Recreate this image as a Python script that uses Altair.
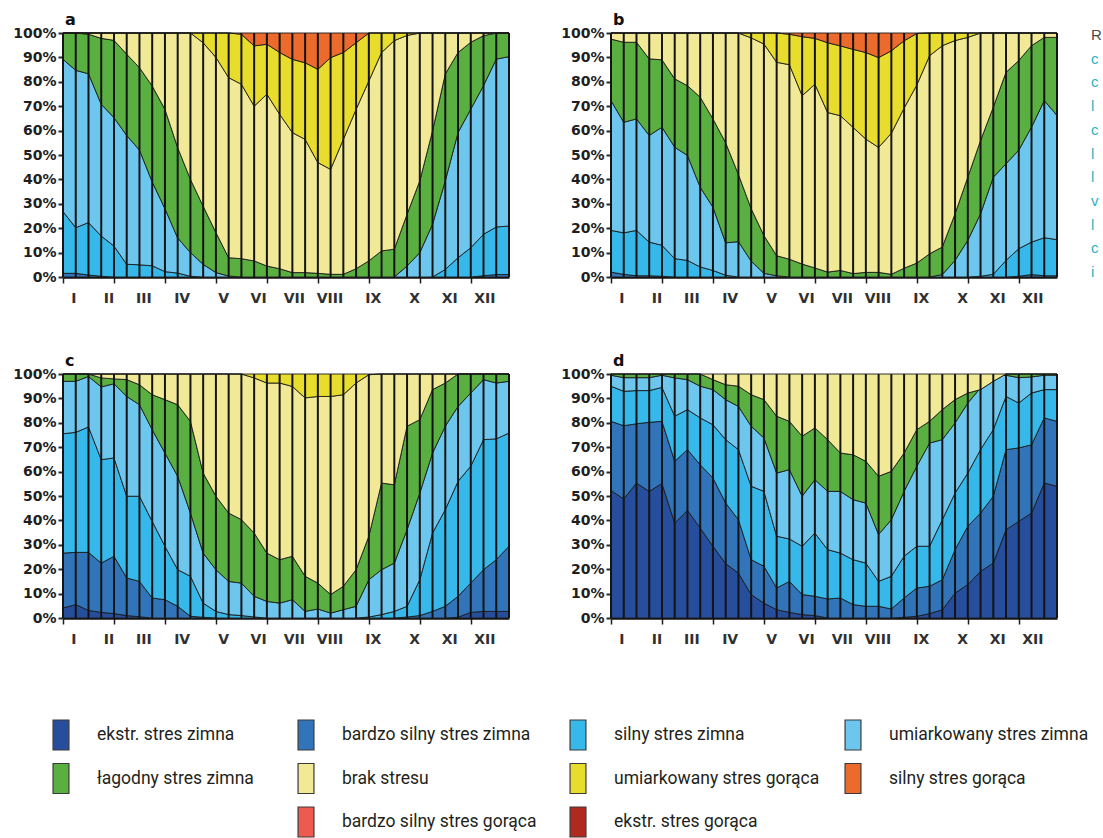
import altair as alt
import pandas as pd

# ---- classes of thermal stress (bottom to top) and their colours ----
CLASSES = [
    "ekstr. stres zimna", "bardzo silny stres zimna", "silny stres zimna",
    "umiarkowany stres zimna", "łagodny stres zimna", "brak stresu",
    "umiarkowany stres gorąca", "silny stres gorąca",
    "bardzo silny stres gorąca", "ekstr. stres gorąca",
]
COLORS = ["#274d9d", "#3274b9", "#36b9ea", "#6dc6ee", "#5aaf41", "#f1e996",
          "#e8dc2d", "#ec6a2b", "#ef5a50", "#b0291f"]

# decades of the year (3 per month) and month labels on the x axis
DECADE = list(range(36))
MONTHS = ["I", "II", "III", "IV", "V", "VI", "VII", "VIII", "IX", "X", "XI", "XII"]
MONTH_AT = [0.85, 3.6, 6.35, 9.35, 12.6, 15.35, 18.15, 20.95, 24.35, 27.6, 30.35, 33.1]
Y_TICKS = [0, 10, 20, 30, 40, 50, 60, 70, 80, 90, 100]

# ---- cumulative frequency (%) up to and including each class, per decade ----
# panel a
A_BS_Z = [1.5, 1.5, 0.8, 0.3] + [0] * 29 + [0.5, 1, 1]
A_S_Z = [26.8, 20.2, 22.3, 16.8, 12.7, 5.2, 5.0, 4.6, 2.2, 1.6, 0.3] + [0] * 19 + \
        [3.1, 7.9, 12, 17.5, 20.5, 20.9]
A_U_Z = [89.2, 84.7, 83.3, 70.8, 65.3, 58, 52, 39, 28, 16, 10, 5.2, 1.8, 0.4] + [0] * 13 + \
        [4.5, 10, 21.6, 39.4, 59.2, 68.8, 78.4, 89.3, 90.3]
A_L_Z = [100, 100, 99.5, 97.8, 97, 91.3, 85.8, 78.3, 68.7, 53, 40, 29, 18.2, 7.9, 7.5, 6.6,
         4.5, 3.4, 1.8, 1.8, 1.5, 1.1, 1.1, 3.4, 6.6, 10.7, 11.4, 25.7, 39.4, 59.9, 83.2,
         92, 96.2, 98.9, 100, 100]
A_BRAK = [100] * 11 + [96, 90, 81.7, 79, 70, 74.9, 66.7, 59.2, 56.4, 46.9, 44.1, 56.4, 68.7,
                       80.3, 92, 96.9, 99] + [100] * 8
A_U_G = [100] * 14 + [99.5, 94.7, 95.4, 92, 89.2, 87.8, 85.1, 89.9, 92, 96] + [100] * 12

# panel b
B_BS_Z = [2, 1.1, 0.5, 0.5, 0.3] + [0] * 27 + [0.3, 1, 0.5, 0.5]
B_S_Z = [19.1, 18.1, 19.1, 14.3, 13, 7.5, 6.8, 4.1, 2.7, 0.7] + [0] * 19 + \
        [0.3, 1.1, 6.8, 11.6, 14.3, 16.1, 15.3]
B_U_Z = [72.3, 63.4, 64.8, 58, 61.4, 53.2, 49.8, 36.8, 28.6, 14, 14.5, 6.5, 1.5, 0.5] + [0] * 12 + \
        [1, 6.8, 15, 25.9, 40.9, 46.4, 52, 61.4, 72.3, 66.2]
B_L_Z = [97.5, 96.2, 96.2, 89.4, 89, 81.2, 78.4, 73.7, 64.8, 55, 42, 28, 17, 8.7, 7.3, 5.3,
         3.7, 2, 2.7, 1.4, 1.9, 1.9, 1.1, 3.6, 5.7, 9.5, 12.3, 25.9, 40.9, 55.9, 69.6, 83.9,
         88.7, 94.8, 98.2, 98.2]
B_BRAK = [100] * 11 + [98, 95.5, 88, 87, 74.3, 79, 67.4, 66.1, 61.3, 56.5, 53.1, 58.9, 69.2,
                       78.7, 90.7, 94.8, 96.9, 98.2] + [100] * 7
B_U_G = [100] * 14 + [99.5, 98.5, 97.8, 96, 94.7, 93.3, 92, 89.9, 92.7, 96.8, 99.8] + [100] * 11

# panel c
C_E_Z = [4.1, 5.5, 3.1, 2.3, 1.8, 1, 0.5] + [0] * 24 + [0.3, 2.3, 2.7, 2.7, 2.7]
C_BS_Z = [26.6, 26.9, 26.9, 22.5, 25.3, 16.4, 15, 8.2, 7.5, 4.8, 0.7, 0.3] + [0] * 15 + \
         [0.4, 1, 2.7, 4.8, 8.9, 14.3, 19.8, 23.9, 29.4]
C_S_Z = [75.5, 76.1, 78.3, 64.9, 65.6, 49.9, 49.9, 39.6, 29.4, 19.8, 17.1, 6.1, 2.7, 1.4, 1,
         0.4] + [0] * 8 + [0.4, 1.4, 2.7, 4.8, 15.7, 34.8, 44.4, 56, 62.2, 73.1, 73.4, 75.8]
C_U_Z = [97, 97, 99, 94.7, 96, 90.8, 87.4, 77.2, 67.6, 58.1, 43, 26.6, 19.8, 15, 14.3, 8.9,
         6.8, 6.1, 7.5, 2.7, 3.7, 2, 3.4, 4.8, 15.7, 19.8, 22.5, 36.2, 51.2, 67.6, 78.6, 86.7,
         92.2, 97.7, 96.3, 97]
C_L_Z = [100, 100, 100, 98.4, 98, 97.7, 95.6, 91.5, 89.5, 87.4, 80.6, 59.4, 49.9, 43, 40.3,
         34.8, 26.6, 23.9, 25.3, 17.1, 14.3, 9.6, 13, 19.8, 33.5, 55.3, 54.6, 78.6, 81.3,
         93.6, 96.3, 100, 100, 100, 100, 100]
C_BRAK = [100] * 15 + [98.4, 96.3, 96.3, 94.9, 90.2, 90.8, 90.8, 91.5, 96.3, 99.7] + [100] * 11

# panel d
D_E_Z = [52.3, 48.8, 55.3, 51.9, 55.1, 38.9, 44.1, 36.9, 29.4, 22.3, 18.4, 9.6, 6.1, 3.4, 2.3,
         1.4, 1] + [0] * 6 + [0.3, 0.7, 1.8, 3.4, 10.2, 13.7, 19.1, 22.5, 36.2, 39.6, 43, 55.3, 54]
D_BS_Z = [80.6, 78.8, 79.6, 80.2, 80.6, 64.2, 69, 62.8, 57.4, 47.1, 40.3, 23.9, 21.2, 12.3, 15,
          9.6, 8.9, 7.8, 8.2, 5.5, 4.8, 4.8, 3.7, 8.2, 12.3, 13, 15.7, 28, 37.6, 43, 49.9, 69,
          69.7, 71, 82, 80.6]
D_S_Z = [95, 92.9, 93.2, 93.2, 94.5, 82.7, 85.4, 82, 79.2, 73.1, 69, 54, 51.9, 33.5, 32.4, 29.4,
         34.8, 28, 26.6, 23.9, 22.5, 15, 17.1, 25.3, 29.4, 29.4, 40.3, 51.2, 59.4, 69, 77.2,
         90.8, 88.1, 92.2, 93.6, 93.6]
D_U_Z = [99.5, 98.5, 98.5, 98.5, 99.5, 98.4, 97.7, 95, 93.6, 89.5, 86.7, 78.6, 73.8, 59.4, 60.8,
         49.9, 56.7, 51.9, 51.9, 48.5, 47.1, 34.2, 40.3, 51.9, 62.2, 71.7, 73.1, 79.9, 88.1,
         94.3, 99, 99.5, 98.5, 98.8, 99.5, 99.5]
D_L_Z = [100] * 8 + [97.7, 95.6, 95, 91.5, 89.5, 82.7, 80.6, 74.5, 77.9, 73.1, 67.6, 66.9, 64.2,
                     58.1, 60.1, 67.6, 77.2, 80.6, 85.4, 89.5, 92.2, 93.6, 97] + [100] * 5

# class stacks per panel; None = the topmost class, which closes at 100 %
PANELS = {
    "a": [("bardzo silny stres zimna", A_BS_Z), ("silny stres zimna", A_S_Z),
          ("umiarkowany stres zimna", A_U_Z), ("łagodny stres zimna", A_L_Z),
          ("brak stresu", A_BRAK), ("umiarkowany stres gorąca", A_U_G),
          ("silny stres gorąca", None)],
    "b": [("bardzo silny stres zimna", B_BS_Z), ("silny stres zimna", B_S_Z),
          ("umiarkowany stres zimna", B_U_Z), ("łagodny stres zimna", B_L_Z),
          ("brak stresu", B_BRAK), ("umiarkowany stres gorąca", B_U_G),
          ("silny stres gorąca", None)],
    "c": [("ekstr. stres zimna", C_E_Z), ("bardzo silny stres zimna", C_BS_Z),
          ("silny stres zimna", C_S_Z), ("umiarkowany stres zimna", C_U_Z),
          ("łagodny stres zimna", C_L_Z), ("brak stresu", C_BRAK),
          ("umiarkowany stres gorąca", None)],
    "d": [("ekstr. stres zimna", D_E_Z), ("bardzo silny stres zimna", D_BS_Z),
          ("silny stres zimna", D_S_Z), ("umiarkowany stres zimna", D_U_Z),
          ("łagodny stres zimna", D_L_Z), ("brak stresu", None)],
}

rows = []
for letter, stack in PANELS.items():
    lower = [0] * len(DECADE)
    for cls, upper in stack:
        if upper is None:
            upper = [100] * len(DECADE)
        for k in DECADE:
            rows.append({"panel": letter, "cls": cls, "k": k,
                         "lo": lower[k], "hi": upper[k]})
        lower = upper
areas_df = pd.DataFrame(rows)
months_df = pd.DataFrame({"m": MONTHS, "pos": MONTH_AT})
decades_df = pd.DataFrame({"k": DECADE})

W, H = 446, 244
AXIS_FONT = "DejaVu Sans"
LEGEND_FONT = "Roboto"

color_scale = alt.Scale(domain=CLASSES, range=COLORS)
x_scale = alt.Scale(domain=[0, 35], nice=False, zero=False)
y_scale = alt.Scale(domain=[0, 100], nice=False)

x_axis = alt.Axis(values=DECADE, labels=False, title=None, grid=False,
                  tickSize=6, tickWidth=1.5, tickColor="#1d1d1d",
                  domainColor="#111111", domainWidth=2.5)
y_axis = alt.Axis(values=Y_TICKS, labelExpr="datum.value + '%'", title=None, grid=False,
                  domain=False, tickSize=5, tickWidth=2, tickColor="#2a2a2a",
                  labelFont=AXIS_FONT, labelFontWeight="bold", labelFontSize=14,
                  labelColor="#1e1e1e", labelPadding=2)


def panel(letter):
    areas = alt.Chart(areas_df[areas_df.panel == letter]).mark_area(
        interpolate="linear", stroke="#1b1b1b", strokeWidth=0.9, opacity=1
    ).encode(
        x=alt.X("k:Q", scale=x_scale, axis=x_axis),
        y=alt.Y("hi:Q", scale=y_scale, axis=y_axis),
        y2="lo:Q",
        color=alt.Color("cls:N", scale=color_scale, legend=None),
    )
    dividers = alt.Chart(decades_df).mark_rule(color="#141414", strokeWidth=2).encode(
        x=alt.X("k:Q", scale=x_scale)
    )
    month_text = alt.Chart(months_df).mark_text(
        font=AXIS_FONT, fontWeight="bold", fontSize=14, color="#303030", baseline="middle"
    ).encode(
        x=alt.X("pos:Q", scale=x_scale),
        y=alt.value(H + 22),
        text="m:N",
    )
    return alt.layer(areas, dividers, month_text).properties(
        width=W, height=H,
        title=alt.TitleParams(text=letter, anchor="start", frame="group", font=AXIS_FONT,
                              fontSize=16, fontWeight="bold", color="#111111",
                              offset=-2, dx=2),
    )


# start of the neighbouring caption column at the right page edge
SIDE_GLYPHS = ["R", "c", "c", "l", "c", "l", "l", "v", "l", "c", "i"]
side_df = pd.DataFrame({"g": SIDE_GLYPHS, "line": list(range(len(SIDE_GLYPHS)))})
side = alt.Chart(side_df).mark_text(
    align="left", baseline="middle", font="Liberation Sans", fontSize=15
).encode(
    x=alt.value(0),
    y=alt.Y("line:Q", scale=alt.Scale(domain=[0, 10], range=[2, 239], nice=False, zero=False),
            axis=None),
    text="g:N",
    color=alt.condition("datum.line == 0", alt.value("#4a4a4a"), alt.value("#2bb1c4")),
).properties(width=9, height=248)

# legend laid out as a 4-column grid
LEG_COL = [0, 1, 2, 3, 0, 1, 2, 3, 1, 2]
LEG_ROW = [0, 0, 0, 0, 1, 1, 1, 1, 2, 2]
legend_df = pd.DataFrame({"cls": CLASSES, "col": LEG_COL, "row": LEG_ROW})
leg_x = alt.Scale(domain=[0, 1, 2, 3], range=[-2, 243, 515, 790], zero=False, nice=False)
leg_y = alt.Scale(domain=[0, 2], range=[41, 128], zero=False, nice=False)
leg_base = alt.Chart(legend_df).encode(
    x=alt.X("col:Q", scale=leg_x, axis=None),
    y=alt.Y("row:Q", scale=leg_y, axis=None),
)
swatches = leg_base.mark_point(
    shape="M-0.53,-1L0.53,-1L0.53,1L-0.53,1Z", size=900, filled=True, opacity=1,
    stroke="#3b3b3b", strokeWidth=1.2
).encode(color=alt.Color("cls:N", scale=color_scale, legend=None))
labels = leg_base.mark_text(
    align="left", baseline="middle", dx=36, font=LEGEND_FONT, fontSize=17.5,
    color="#231f20"
).encode(text="cls:N")
legend = alt.layer(swatches, labels).properties(width=1000, height=142)

top_row = alt.hconcat(panel("a"), alt.hconcat(panel("b"), side, spacing=32), spacing=49)
bottom_row = alt.hconcat(panel("c"), panel("d"), spacing=49)

chart = alt.vconcat(top_row, bottom_row, legend, spacing=47).properties(
    padding={"left": 12, "top": 12, "right": 0, "bottom": 0}
).configure_view(strokeWidth=0)

chart.save("out.html", embed_options={"renderer": "svg", "actions": False})
